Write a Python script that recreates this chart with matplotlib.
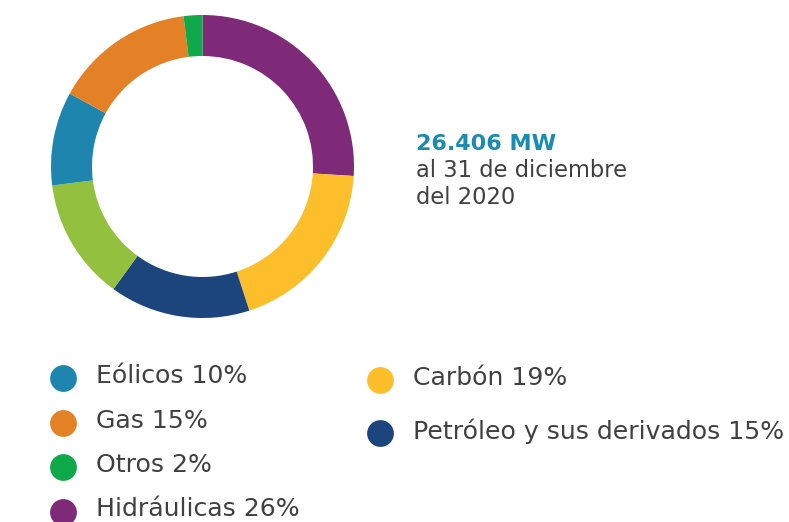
import matplotlib
matplotlib.use("Agg")
import matplotlib.pyplot as plt

# capacity share, clockwise from the top of the ring
sources = ["Hidráulicas", "Carbón", "Petróleo y sus derivados", "Solar", "Eólicos", "Gas", "Otros"]
shares = [26, 19, 15, 13, 10, 15, 2]
colors = ["#7F2A78", "#FDBE2C", "#1D457D", "#93C03E", "#1E86AE", "#E48126", "#0FA84B"]

# legend columns as printed (the light green slice has no visible entry)
legend_left = ["Eólicos", "Gas", "Otros", "Hidráulicas"]
legend_right = ["Carbón", "Petróleo y sus derivados"]

total_mw = "26.406 MW"
subtitle = ["al 31 de diciembre", "del 2020"]

plt.rcParams["font.family"] = ["DejaVu Sans"]
W, H = 789, 522
fig = plt.figure(figsize=(W / 100, H / 100), dpi=100)
ax = fig.add_axes([0, 0, 1, 1])

def py(y):
    # pixel row (from top) -> data y
    return H - y

ax.pie(shares, colors=colors, startangle=90, counterclock=False,
       center=(202.5, py(166.5)), radius=151.5,
       wedgeprops=dict(width=41, linewidth=0))
ax.set_xlim(0, W)
ax.set_ylim(0, H)
ax.set_aspect("equal")
ax.axis("off")

gray = "#404040"
ax.text(416, py(150), total_mw, color="#1A8CB0", fontsize=16, fontweight="bold",
        va="baseline", ha="left")
for i, line in enumerate(subtitle):
    ax.text(416, py(177 + i * 27), line, color=gray, fontsize=16.3,
            va="baseline", ha="left")

pct = dict(zip(sources, shares))
col = dict(zip(sources, colors))
for i, name in enumerate(legend_left):
    y = py(378 + i * 44.5)
    ax.scatter([63], [y], s=26 ** 2 * 0.55, color=col[name], linewidths=0, clip_on=False)
    ax.text(96, y + 2, f"{name} {pct[name]}%", color=gray, fontsize=18.1, va="center", ha="left")
for i, name in enumerate(legend_right):
    y = py(380 + i * 53)
    ax.scatter([380], [y], s=26 ** 2 * 0.55, color=col[name], linewidths=0, clip_on=False)
    ax.text(413, y + 2, f"{name} {pct[name]}%", color=gray, fontsize=18.1, va="center", ha="left")

fig.savefig("out.png", dpi=100)
